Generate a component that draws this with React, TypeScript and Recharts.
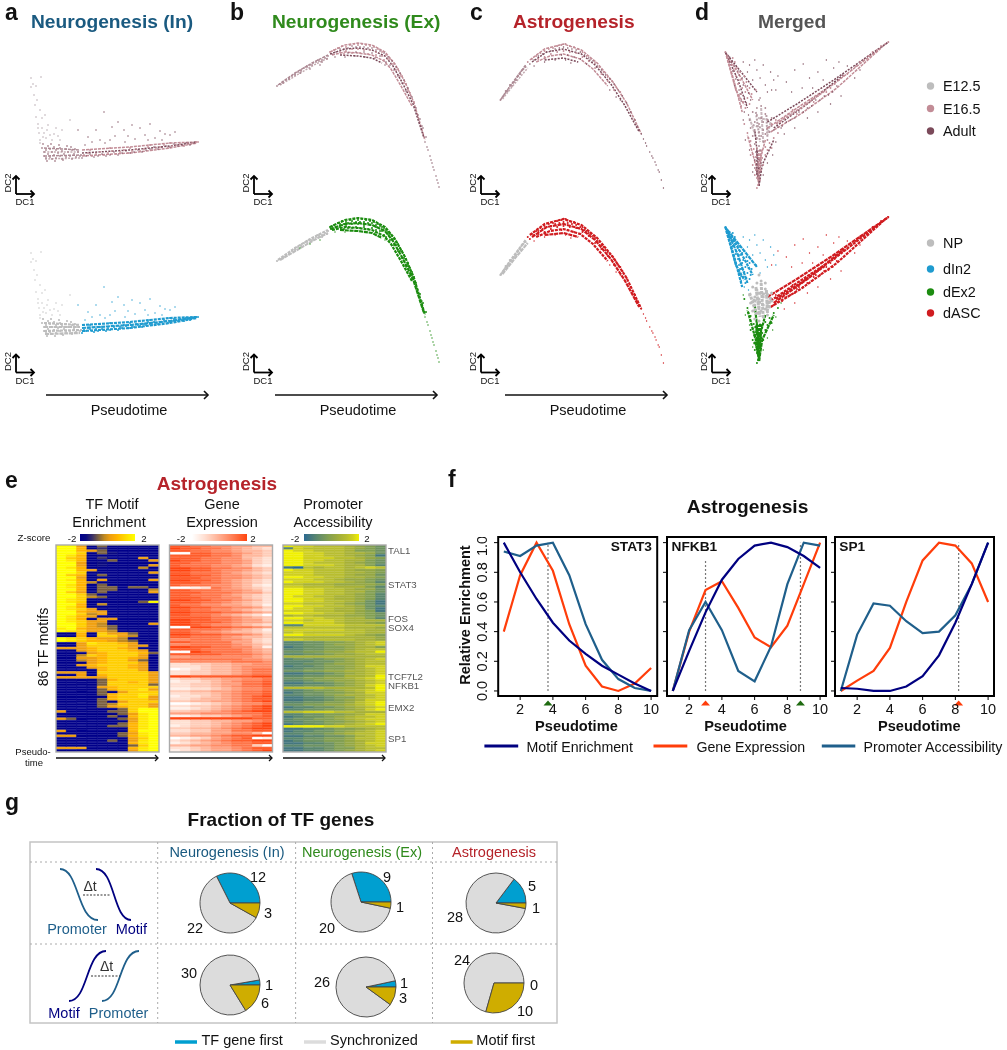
import React from "react";
import {
  ScatterChart, Scatter, XAxis, YAxis, BarChart, Bar, Cell, LineChart, Line,
  ReferenceLine, ReferenceDot, PieChart, Pie,
} from "recharts";

const FONT = "'Liberation Sans', Arial, sans-serif";

const inNP = [42,148,44,152,44,156,46,150,46,158,48,146,48,154,50,149,50,157,52,152,52,159,54,147,54,155,56,150,56,158,58,153,60,148,60,156,62,151,62,159,64,154,66,149,66,157,68,152,70,156,72,150,72,159,74,154,76,157,78,152,80,156,43,144,47,161,51,144,55,161,59,145,63,160,67,146,71,147,75,149];
const inA = [84,155,88,153,92,156,96,154,100,152,104,155,108,153,112,151,116,154,120,152,124,150,128,153,132,151,136,149,140,151,144,149,148,147,152,150,156,148,160,147,164,145,168,148,172,146,176,145,180,144,184,146,188,144,192,143,196,142,198,142,90,150,110,148,130,148,150,145,170,143];
const inB = [82,158,86,156,90,154,94,157,98,156,102,154,106,156,110,155,114,152,118,155,122,153,126,151,130,153,134,152,138,150,142,152,146,150,150,149,154,147,158,149,162,147,166,146,170,147,174,144,178,146,182,145,186,143,190,145,194,143];
const inSprayNP = [31,78,33,84,31,87,36,86,41,77,34,95,37,100,35,105,40,110,36,117,42,118,38,124,45,115,42,128,39,133,48,125,44,133,40,140,50,135,46,138,56,128,52,140,60,140,62,130,70,120,40,143,38,128,43,137,47,130,54,134,58,136];
const inSpray = [104,112,112,127,78,130,96,130,118,122,124,130,88,137,100,140,132,125,140,128,150,124,160,131,170,135,145,135,155,138,115,136,135,139,125,142,165,134,175,132,105,143,85,145,92,142,110,140,128,136,148,140,162,140];
const inStrandsNP = [[44,148,80,150],[44,152,80,152],[44,156,82,155],[45,159,80,158]];
const inStrands = [[82,150,130,147,170,143,197,142],[82,153,130,150,170,146,197,142],[82,156,130,153,170,148,197,143]];

const exNP = [277,86,280,84,283,82,286,80,289,78,292,76,295,74,298,72,301,70,304,68,307,67,310,65,313,63,316,62,319,61,322,60,325,58,328,56,283,83,289,79,295,75,301,71,307,66,312,65,318,60,322,62,327,59];
const exA = [330,52,334,50,338,48,342,46,346,47,350,45,354,44,358,45,362,44,366,45,370,46,374,47,378,49,382,52,386,55,390,59,394,64,398,69,402,76,406,84,410,93,414,102,340,52,346,51,352,49,358,49,364,50,370,50,376,52,382,56,388,59,392,64,396,70,400,76,404,83,408,90,344,54,352,53,360,53,368,54,376,55,384,60];
const exB = [332,54,336,52,340,49,344,49,348,48,352,46,356,47,360,47,364,47,368,48,372,48,376,50,380,51,384,53,388,57,392,61,396,67,400,73,404,80,408,88,412,97,416,108,420,119,423,128,426,137,348,53,356,52,364,52,372,53,380,56,386,62,390,65,394,70,398,76,402,83,406,91];
const exSpray = [425,142,428,150,430,156,432,163,434,170,436,176,438,183,439,187,427,147,431,160,433,167,437,180,418,115,422,126,335,57,345,57,355,56,365,57,375,58,300,73,310,69,320,65,385,65];
const exStrandsNP = [[278,85,295,73,312,63,328,55],[280,85,297,75,314,65,328,58]];
const exStrands = [[330,52,345,45,358,43,372,45,385,52,395,64,405,82,414,103,425,140],[330,54,345,49,358,48,372,50,385,56,393,66,403,84,413,104,424,138],[332,55,345,52,358,53,372,55,384,61,391,69,401,86,412,106],[340,55,358,56,372,58,382,63]];

const acNP = [498,100,500,97,502,94,504,91,506,88,508,85,510,83,512,80,514,77,516,74,518,71,520,69,522,67,501,96,505,91,509,86,513,80,517,74,503,91,507,85,511,82,515,76,519,70];
const acA = [524,62,528,59,532,56,536,53,540,51,544,49,548,48,552,46,556,45,560,44,564,46,568,47,572,49,576,52,580,56,584,59,588,63,592,67,596,72,600,77,604,81,608,87,612,92,534,59,540,57,546,54,552,52,558,51,564,52,570,53,576,57,582,61,588,68,594,74,600,81,606,90];
const acB = [526,64,530,60,534,56,538,54,542,52,546,51,550,49,554,48,558,47,562,48,566,49,570,50,574,52,578,55,582,58,586,61,590,66,594,70,598,75,602,79,606,84,610,90,614,96,618,103,622,112,626,120,630,130,556,55,562,55,568,57,574,59];
const acSpray = [634,139,637,146,640,152,643,158,646,165,649,172,651,180,653,188,628,126,632,134,636,143,642,156,645,162,648,170,530,66,540,62,550,60,560,60,565,63,580,64,602,90,608,97,612,100];
const acStrandsNP = [[498,100,510,82,522,65],[500,99,512,83,524,68]];
const acStrands = [[526,60,540,49,558,44,575,50,590,63,605,82,618,103,632,134],[528,62,542,52,558,49,575,54,588,65,603,84,616,105,630,132],[532,62,545,56,558,54,574,59,586,69,600,86],[540,60,558,58,572,62]];

const mgNP = [738,112,742,115,746,118,750,114,735,120,740,122,744,124,748,122,752,120,756,118,736,128,740,130,744,132,748,130,752,128,756,126,738,136,742,138,746,136,750,134,754,132,740,144,744,146,748,142,752,140,742,108,746,106,750,108,744,100];
const mgInA = [712,52,714,56,716,60,718,65,715,62,719,58,721,62,720,70,723,68,726,72,718,74,722,76,726,80,730,76,720,82,724,84,728,88,732,82,722,90,727,94,731,92,735,88,725,98,729,102,733,98,737,94,741,90,727,106,731,108,735,104];
const mgInB = [713,54,716,57,718,62,721,66,724,71,719,71,722,79,725,75,728,78,721,86,725,90,729,85,733,86,726,94,730,97,734,93,727,101,732,103,736,100];
const mgInSpray = [738,80,745,78,750,85,742,70,733,72,748,65,755,72,758,80,740,60,752,92,745,98,729,62,735,65,760,90,730,112,734,115];
const mgExA = [730,124,733,133,736,141,739,149,741,157,743,165,744,173,745,180,742,188,743,185,742,178,741,170,740,162,738,154,745,155,747,150,750,147,754,143,758,138,762,133,746,160,744,158,742,155,748,165,746,170,740,175,738,165,736,155,742,148,736,146,734,138,752,150,756,148,750,155,747,158];
const mgExB = [742,155,744,160,742,165,744,168,742,172,743,176,740,160,746,163,741,152,745,150,740,168,745,172];
const mgExSpray = [729,120,760,142,765,128,757,155,752,163,731,140,735,150,748,175,738,172];
const mgAcA = [752,128,756,124,760,120,764,122,768,118,772,114,776,110,780,114,784,108,788,104,792,100,796,102,800,96,804,92,808,92,812,88,816,84,820,80,824,76,828,74,832,70,836,66,840,62,844,60,848,56,852,52,856,50,860,46,864,44,867,42];
const mgAcB = [758,130,762,127,766,126,770,122,774,120,778,118,782,112,786,112,790,108,794,106,798,100,802,100,806,96,810,95,814,92,818,86];
const mgAcSpray = [756,90,762,76,770,82,778,70,786,64,792,78,800,72,808,60,815,68,775,92,785,88,795,88,805,80,820,62,828,66,840,70,835,78,822,96,812,104,800,112,790,118,778,128,768,134];
const mgInStrands = [[712,52,720,80,728,112],[712,52,724,80,733,108],[713,54,727,78,738,100],[714,55,730,76,742,92],[713,56,722,90,730,105]];
const mgExStrands = [[744,186,741,165,733,135],[744,186,743,160,740,130],[744,186,745,160,750,140],[744,186,747,165,758,140],[743,180,744,150],[742,175,742,150],[745,172,746,150]];
const mgAcStrands = [[752,128,780,108,815,84,867,42],[752,122,780,104,815,80,867,42],[755,132,785,113,818,88,860,48],[758,128,790,104,825,74],[760,124,785,107,808,90]];
const mgNpStrands = [[735,118,742,140],[741,112,745,142],[746,108,748,142],[751,115,752,138],[755,122,752,135],[738,125,747,128],[743,118,754,120]];

// ---------- heat maps: one string per TF motif, one digit (0-9) per pseudotime bin ----------
const motifRows = [
"9950300000","9960200000","9965300000","9970310000","9860000000","9760200050","9860030005","9950100000","9950100005","9860000040",
"9965000000","9970000005","9760300000","9950000000","9860500005","9964000000","9860300000","9860330330","9960330004","9750300005",
"9973000000","9974300000","9870000000","9870000039","9960400000","9860000000","9875000000","9965500000","9974500000","9865000000",
"9860550000","9875500000","9975400005","9975430000","8965530000","9875540000",
"0060755300","0060775400","9876554000","9876654300","0058776500","0057777550","5556776500","0056777650","0005677763","0047677750",
"0055677650","0045677530","0005677750","0056777650","0005677650","0000677750",
"5550777775","0050677775","5555577775","0000367775","0000377675","0000377773","0000567777","0000367785","0000305777","0000367787",
"0000067785","0000367775","0000305777","0000347775","0000356775",
"0000003799","5000033799","0000003589","0000030689","5300003589","0000000589","0000003689","0000033689","0000000689","5000000699",
"0000003589","5500003689","0000000579","0000030589","0000000689","0000000379","5550000689","0000000589",
];
const geneRows = [
"8877665544","9887765432","8877665443","0088776543","8888776443","8887766432","9887766532","8877766532","8777665421","9988776643",
"9988766543","8877765432","9988766543","8887766543","9988765432","8887765432","8777665421","0012765432","8877766542","8887776553",
"8877765432","8887766432","9988776542","8887765432","8776655431","9988776653","8877665432","9988877654","8877654320","8888776543",
"9988776553","9988876554","9987665432","0099887765","8877765431","8876654432","9988877653","8877765443","6677766532","8877775532",
"6677776543","9988776641","8887777654","0098777654","8888877765","5566666654","7777777665","6666667776",
"2233445566","2223445666","0123445677","2233445677","2233445677","9988888899","2334455667","1223456778","2233455778","2233456778",
"1122345667","3344556778","2233456778","1223456789","2234456788","3344556789","0012345667","2233456789","1123456789","3344567899",
"5556667778","1123345678","9999999988","2233445567","2233456789","1233456789","3344567899","2233557788","3344556640","4455678899",
"0123567801","2345678899","1234567788","4455667730","2234556788","1234556789",
];
const promRows = [
"9887776543","2877776543","9887776443","9988776653","9988776541","9988877654","9988776643","9987776543","9988876642","1076776787",
"9887776554","8887776654","8887776553","9988776654","8887765543","9888776542","7766655554","8877766642","9988776553","9988776643",
"9988776542","9887766542","9988766542","9988776531","8877765431","9988776532","9887766531","8887766541","9988776543","6776665543",
"9988776642","8878876666","9988876654","2288887777","7777776665","8888887766","7877777766","9988887654","6666666665","8877777665",
"2233445678","2233455678","1233445664","2233445677","3344556779","2233455677","6666666666","2333445678","2223345677","2233455677",
"1223445688","2233445678","3344556678","1122345678","2233446679","3344556789","2234455678","1122345678","2233345689","7777666679",
"2234456789","1233445688","2233456678","1122344678","1122345688","2233445789","3344556789","1223345678","2233445689","7788877666",
"2233445688","1233456778","2334456788","2233445678","1233456789","9999887777","1122344567","1223345678","2233456778","1122334678",
"2233445778","1233445678","1122345688","2233345678","1122344677","1122345678",
];
const binKeys = ["c0","c1","c2","c3","c4","c5","c6","c7","c8","c9"];
const motifPalette = ["#00008b","#0a0a80","#3a3068","#7a6040","#c08a20","#f0a010","#ffb400","#ffcf00","#ffe800","#ffff00"];
const genePalette = ["#ffffff","#fff0e9","#ffe0d3","#ffcdb9","#ffb89e","#ffa282","#ff8c66","#ff7549","#ff5d2b","#ff4510"];
const promPalette = ["#2b6a92","#44777f","#5a876f","#6f9362","#83a052","#96a844","#a8b238","#b8be30","#d0d020","#f0f000"];

// ---------- panel f ----------
const pseudotime = [1,2,3,4,5,6,7,8,9,10];
const stat3Motif = [1,.8,.62,.46,.34,.25,.17,.11,.05,0];
const stat3Gene = [.4,.78,1,.81,.45,.17,.03,0,.05,.155];
const stat3Prom = [.94,.91,.98,1,.78,.45,.21,.08,.02,0];
const nfkb1Motif = [0,.27,.53,.75,.89,.98,1,.97,.91,.83];
const nfkb1Gene = [0,.4,.68,.74,.56,.36,.295,.44,.72,1];
const nfkb1Prom = [0,.41,.6,.41,.135,.065,.3,.72,1,.98];
const sp1Motif = [.02,.015,0,0,.03,.1,.24,.46,.72,1];
const sp1Gene = [0,.07,.135,.29,.6,.88,1,.98,.86,.6];
const sp1Prom = [0,.38,.59,.575,.47,.39,.4,.51,.72,1];

// ---------- panel g ----------
const pieNames = ["TF gene first","Synchronized","Motif first"];
const pieIn1 = [12,22,3];
const pieEx1 = [9,20,1];
const pieAc1 = [5,28,1];
const pieIn2 = [1,30,6];
const pieEx2 = [1,26,3];
const pieAc2 = [0,24,10];

const C = {
  gray: "#bdbdbd", pink: "#c28c96", dark: "#7b4a5a", np: "#ad8a94", spray: "#a99aa0", band: "#a67482",
  blue: "#1f9bcf", green: "#1c8c10", red: "#d01c20",
  navy: "#000080", orange: "#ff3d0a", teal: "#1f5f8b",
  tealT: "#1a5a80", greenT: "#2f8a1c", redT: "#b5232a",
  pieBlue: "#009fd0", pieGray: "#dcdcdc", pieGold: "#cfad00",
};

const xy = (flat: number[]) => {
  const out: { x: number; y: number }[] = [];
  for (let i = 0; i < flat.length; i += 2) out.push({ x: flat[i], y: flat[i + 1] });
  return out;
};

type Layer = { d: number[]; c: string; r?: number; w?: number; dash?: string };
function Cloud({ l, t, w, h, px, pw, dy = 0, layers }: { l: number; t: number; w: number; h: number; px?: number; pw?: number; dy?: number; layers: Layer[] }) {
  return (
    <div style={{ position: "absolute", left: px ?? l, top: t + dy }}>
      <ScatterChart width={pw ?? w} height={h} margin={{ top: 0, right: 0, bottom: 0, left: 0 }}>
        <XAxis type="number" dataKey="x" domain={[l, l + w]} hide />
        <YAxis type="number" dataKey="y" domain={[t, t + h]} reversed hide />
        {layers.map((ly, i) => ly.w ? (
          <Scatter key={i} data={xy(ly.d)} isAnimationActive={false} lineType="joint"
            line={{ stroke: ly.c, strokeWidth: ly.w, strokeDasharray: ly.dash }}
            shape={() => <g />} />
        ) : (
          <Scatter key={i} data={xy(ly.d)} isAnimationActive={false}
            shape={(p: any) => <circle cx={p.cx} cy={p.cy} r={ly.r} fill={ly.c} />} />
        ))}
      </ScatterChart>
    </div>
  );
}

function Heat({ l, rows, palette }: { l: number; rows: string[]; palette: string[] }) {
  const data = rows.map((s, i) => {
    const o: any = { row: i };
    binKeys.forEach((k) => (o[k] = 1));
    return o;
  });
  return (
    <div style={{ position: "absolute", left: l, top: 545 }}>
      <BarChart width={103} height={207} layout="vertical" data={data} barCategoryGap={0}
        margin={{ top: 0, right: 0, bottom: 0, left: 0 }}>
        <XAxis type="number" domain={[0, 10]} hide />
        <YAxis type="category" dataKey="row" hide />
        {binKeys.map((k, j) => (
          <Bar key={k} dataKey={k} stackId="a" isAnimationActive={false}>
            {rows.map((s, i) => {
              const f = palette[Number(s[j])];
              return <Cell key={i} fill={f} stroke={f} strokeWidth={0.6} />;
            })}
          </Bar>
        ))}
      </BarChart>
    </div>
  );
}

function Trend({ frameL, motif, gene, prom, first, marks, dashes }: {
  frameL: number; motif: number[]; gene: number[]; prom: number[]; first?: boolean;
  marks: { x: number; c: string }[]; dashes: { x: number; top: number }[];
}) {
  const data = pseudotime.map((p, i) => ({ p, motif: motif[i], gene: gene[i], prom: prom[i] }));
  return (
    <div style={{ position: "absolute", left: frameL - 40, top: 537 }}>
      <LineChart width={213} height={196} data={data} margin={{ top: 0, right: 14, bottom: 0, left: 0 }}>
        <XAxis type="number" dataKey="p" domain={[0.646, 10.36]} ticks={[2, 4, 6, 8, 10]} height={37}
          axisLine={false} tickSize={4} tickLine={{ stroke: "#000" }} tickMargin={4}
          tick={{ fontSize: 14.5, fill: "#111", fontFamily: FONT }} interval={0} allowDataOverflow />
        <YAxis type="number" domain={[-0.034, 1.038]} ticks={[0, .2, .4, .6, .8, 1]} width={40}
          axisLine={false} tickSize={4} tickLine={{ stroke: "#000" }} allowDataOverflow
          tick={first ? (p: any) => (
            <text x={p.x - 5} y={p.y} transform={`rotate(-90 ${p.x - 5} ${p.y})`} textAnchor="middle"
              fontSize={14.5} fill="#111" fontFamily={FONT}>{Number(p.payload.value).toFixed(1)}</text>
          ) : () => <g />} />
        {dashes.map((d, i) => (
          <ReferenceLine key={i} segment={[{ x: d.x, y: 0 }, { x: d.x, y: d.top }]}
            stroke="#777" strokeDasharray="2 2" strokeWidth={1.2} />
        ))}
        <Line dataKey="gene" stroke={C.orange} strokeWidth={2.2} dot={false} isAnimationActive={false} />
        <Line dataKey="prom" stroke={C.teal} strokeWidth={2.2} dot={false} isAnimationActive={false} />
        <Line dataKey="motif" stroke={C.navy} strokeWidth={2.2} dot={false} isAnimationActive={false} />
        {marks.map((m, i) => (
          <ReferenceDot key={i} x={m.x} y={-0.081} ifOverflow="visible"
            shape={(p: any) => <polygon points={`${p.cx - 4.5},${p.cy + 2.5} ${p.cx + 4.5},${p.cy + 2.5} ${p.cx},${p.cy - 2.5}`} fill={m.c} />} />
        ))}
      </LineChart>
    </div>
  );
}

function TfPie({ cx, cy, r, values }: { cx: number; cy: number; r: number; values: number[] }) {
  const s = r + 4;
  const data = values.map((v, i) => ({ name: pieNames[i], value: v }));
  const fills = [C.pieBlue, C.pieGray, C.pieGold];
  return (
    <div style={{ position: "absolute", left: cx - s, top: cy - s }}>
      <PieChart width={s * 2} height={s * 2} margin={{ top: 0, right: 0, bottom: 0, left: 0 }}>
        <Pie data={data} dataKey="value" cx={s} cy={s} outerRadius={r} innerRadius={0} startAngle={0} endAngle={360}
          isAnimationActive={false} stroke="#444" strokeWidth={0.9}>
          {data.map((d, i) => <Cell key={i} fill={fills[i]} />)}
        </Pie>
      </PieChart>
    </div>
  );
}

function T({ x, y, s = 14.5, b, c = "#111", a = "start", rot, children }: any) {
  return (
    <text x={x} y={y} fontSize={s} fontWeight={b ? 700 : 400} fill={c} textAnchor={a} fontFamily={FONT}
      transform={rot ? `rotate(${rot} ${x} ${y})` : undefined}>{children}</text>
  );
}

function Arrow({ x1, y1, x2, y2, w = 1.6, c = "#111", h = 4 }: any) {
  const dx = Math.sign(x2 - x1), dy = Math.sign(y2 - y1);
  return (
    <g stroke={c} strokeWidth={w} fill="none">
      <line x1={x1} y1={y1} x2={x2} y2={y2} />
      <polyline points={`${x2 - dx * h - dy * h},${y2 - dy * h - dx * h} ${x2},${y2} ${x2 - dx * h + dy * h},${y2 - dy * h + dx * h}`} />
    </g>
  );
}

function DC({ x, y }: { x: number; y: number }) {
  return (
    <g>
      <Arrow x1={x} y1={y} x2={x} y2={y - 18} w={1.8} h={3.5} c="#000" />
      <Arrow x1={x} y1={y} x2={x + 18} y2={y} w={1.8} h={3.5} c="#000" />
      <T x={x - 5} y={y - 11} s={9.5} a="middle" rot={-90}>DC2</T>
      <T x={x + 9} y={y + 11} s={9.5} a="middle">DC1</T>
    </g>
  );
}

function Grad({ id, palette }: { id: string; palette: string[] }) {
  return (
    <linearGradient id={id} x1="0" x2="1" y1="0" y2="0">
      {palette.map((p, i) => <stop key={i} offset={i / (palette.length - 1)} stopColor={p} />)}
    </linearGradient>
  );
}

const topStrands = (a: number[][], w = 1.5, colors = [C.pink, C.dark]): Layer[] =>
  a.map((d, i) => ({ d, c: colors[i % colors.length], w, dash: i % 2 ? "2 1.3" : "3 1" }));
const cellStrands = (a: number[][], c: string, w = 2.2): Layer[] =>
  a.map((d, i) => ({ d, c, w, dash: i % 2 ? "4 0.8" : "3 1" }));

const stageLayers = (npS: number[][], s: number[][], np: number[], a: number[], b: number[], spray: number[], extra: number[] = []): Layer[] => [
  ...topStrands(npS, 1.5, [C.np, "#c3aab0"]), ...topStrands(s),
  { d: extra, c: C.spray, r: 0.7 }, { d: spray, c: C.dark, r: 0.7 },
  { d: np, c: C.np, r: 0.9 }, { d: a, c: C.pink, r: 0.9 }, { d: b, c: C.dark, r: 0.75 },
];
const cellLayers = (npS: number[][], s: number[][], np: number[], a: number[], b: number[], spray: number[], col: string, extra: number[] = []): Layer[] => [
  ...cellStrands(s, col), ...cellStrands(npS, C.gray),
  { d: extra, c: C.gray, r: 0.7 }, { d: spray, c: col, r: 0.7 },
  { d: a, c: col, r: 1 }, { d: b, c: col, r: 1 }, { d: np, c: C.gray, r: 1.1 },
];

const mergedA = [...mgInA, ...mgExA, ...mgAcA];
const mergedB = [...mgInB, ...mgExB, ...mgAcB];
const mergedSpray = [...mgInSpray, ...mgExSpray, ...mgAcSpray];

export default function App() {
  const dy = 174.5;
  return (
    <div style={{ position: "absolute", left: 0, top: 0, width: 1007, height: 1050, background: "#fff", overflow: "hidden", fontFamily: FONT, filter: "blur(0.3px)" }}>
      <Cloud l={20} t={70} w={185} h={100} layers={stageLayers(inStrandsNP, inStrands, inNP, inA, inB, inSpray, inSprayNP)} />
      <Cloud l={20} t={70} w={185} h={100} dy={dy} layers={cellLayers(inStrandsNP, inStrands, inNP, inA, inB, inSpray, C.blue, inSprayNP)} />
      <Cloud l={270} t={38} w={175} h={155} layers={stageLayers(exStrandsNP, exStrands, exNP, exA, exB, exSpray)} />
      <Cloud l={270} t={38} w={175} h={155} dy={dy} layers={cellLayers(exStrandsNP, exStrands, exNP, exA, exB, exSpray, C.green)} />
      <Cloud l={490} t={38} w={170} h={155} px={491.6} pw={178.8} layers={stageLayers(acStrandsNP, acStrands, acNP, acA, acB, acSpray)} />
      <Cloud l={490} t={38} w={170} h={155} px={491.6} pw={178.8} dy={dy} layers={cellLayers(acStrandsNP, acStrands, acNP, acA, acB, acSpray, C.red)} />
      <Cloud l={705} t={38} w={170} h={155} px={717.7} pw={178.8} layers={[
        ...topStrands(mgNpStrands, 2, ["#c9b8bd", "#b9a2a9"]),
        ...topStrands(mgInStrands), ...topStrands(mgExStrands), ...topStrands(mgAcStrands),
        { d: mergedSpray, c: C.dark, r: 0.7 }, { d: mgNP, c: C.np, r: 0.9 }, { d: mergedA, c: C.pink, r: 0.9 }, { d: mergedB, c: C.dark, r: 0.75 },
      ]} />
      <Cloud l={705} t={38} w={170} h={155} px={717.7} pw={178.8} dy={dy} layers={[
        ...cellStrands(mgInStrands, C.blue), ...cellStrands(mgExStrands, C.green), ...cellStrands(mgAcStrands, C.red),
        { d: mgInSpray, c: C.blue, r: 0.7 }, { d: mgExSpray, c: C.green, r: 0.7 }, { d: mgAcSpray, c: C.red, r: 0.7 },
        { d: mgInA, c: C.blue, r: 1 }, { d: mgInB, c: C.blue, r: 1 },
        { d: mgExA, c: C.green, r: 1 }, { d: mgExB, c: C.green, r: 1.6 },
        { d: mgAcA, c: C.red, r: 0.9 }, { d: mgAcB, c: C.red, r: 1 },
        ...cellStrands(mgNpStrands, C.gray, 3), { d: mgNP, c: C.gray, r: 1.5 },
      ]} />

      <Heat l={56} rows={motifRows} palette={motifPalette} />
      <Heat l={169.5} rows={geneRows} palette={genePalette} />
      <Heat l={283} rows={promRows} palette={promPalette} />

      <Trend frameL={498.2} motif={stat3Motif} gene={stat3Gene} prom={stat3Prom} first
        marks={[{ x: 3.7, c: "#1f6b10" }]} dashes={[{ x: 3.7, top: 1 }]} />
      <Trend frameL={667} motif={nfkb1Motif} gene={nfkb1Gene} prom={nfkb1Prom}
        marks={[{ x: 3, c: C.orange }, { x: 8.8, c: "#1f6b10" }]} dashes={[{ x: 3, top: 0.89 }, { x: 8.8, top: 1 }]} />
      <Trend frameL={835} motif={sp1Motif} gene={sp1Gene} prom={sp1Prom}
        marks={[{ x: 8.2, c: C.orange }]} dashes={[{ x: 8.2, top: 1 }]} />

      <TfPie cx={230} cy={903} r={30} values={pieIn1} />
      <TfPie cx={360.6} cy={902} r={30} values={pieEx1} />
      <TfPie cx={496.4} cy={903} r={30} values={pieAc1} />
      <TfPie cx={230.3} cy={985} r={30} values={pieIn2} />
      <TfPie cx={366} cy={987} r={30} values={pieEx2} />
      <TfPie cx={493.8} cy={983} r={30} values={pieAc2} />

      <svg width={1007} height={1050} style={{ position: "absolute", left: 0, top: 0, pointerEvents: "none" }}>
        <defs>
          <Grad id="gm" palette={motifPalette} />
          <Grad id="gg" palette={genePalette} />
          <Grad id="gp" palette={promPalette} />
        </defs>
        {/* panel letters & titles */}
        <T x={5} y={20} s={23} b>a</T>
        <T x={230} y={20} s={23} b>b</T>
        <T x={470} y={20} s={23} b>c</T>
        <T x={695} y={20} s={23} b>d</T>
        <T x={5} y={488} s={23} b>e</T>
        <T x={448} y={487} s={23} b>f</T>
        <T x={5} y={810} s={23} b>g</T>
        <T x={31} y={28} s={19.2} b c={C.tealT}>Neurogenesis (In)</T>
        <T x={272} y={28} s={19.2} b c={C.greenT}>Neurogenesis (Ex)</T>
        <T x={513} y={28} s={19.2} b c={C.redT}>Astrogenesis</T>
        <T x={758} y={28} s={19.2} b c="#555">Merged</T>

        {[16, 254, 481, 712].map((x) => <DC key={x} x={x} y={194} />)}
        {[16, 254, 481, 712].map((x) => <DC key={x} x={x} y={372.5} />)}
        <Arrow x1={46} y1={395} x2={208} y2={395} />
        <Arrow x1={275} y1={395} x2={437} y2={395} />
        <Arrow x1={505} y1={395} x2={667} y2={395} />
        <T x={129} y={415} a="middle">Pseudotime</T>
        <T x={358} y={415} a="middle">Pseudotime</T>
        <T x={588} y={415} a="middle">Pseudotime</T>

        {[["E12.5", 86, C.gray], ["E16.5", 108.5, C.pink], ["Adult", 131, C.dark],
          ["NP", 243, C.gray], ["dIn2", 269, C.blue], ["dEx2", 292, C.green], ["dASC", 313, C.red]].map(([n, y, c]: any) => (
          <g key={n}>
            <circle cx={930.5} cy={y} r={3.7} fill={c} />
            <T x={943} y={y + 5} s={14.4}>{n}</T>
          </g>
        ))}

        {/* panel e */}
        <T x={217} y={490} s={19} b a="middle" c={C.redT}>Astrogenesis</T>
        <T x={112} y={509} a="middle">TF Motif</T>
        <T x={109} y={527} a="middle">Enrichment</T>
        <T x={222} y={509} a="middle">Gene</T>
        <T x={222} y={527} a="middle">Expression</T>
        <T x={333} y={509} a="middle">Promoter</T>
        <T x={333} y={527} a="middle">Accessibility</T>
        <T x={34} y={541} s={9.7} a="middle">Z-score</T>
        <T x={72} y={542} s={9.7} a="middle">-2</T><T x={144} y={542} s={9.7} a="middle">2</T>
        <T x={181} y={542} s={9.7} a="middle">-2</T><T x={253} y={542} s={9.7} a="middle">2</T>
        <T x={295} y={542} s={9.7} a="middle">-2</T><T x={367} y={542} s={9.7} a="middle">2</T>
        <rect x={80} y={534} width={55} height={7} fill="url(#gm)" />
        <rect x={192} y={534} width={55} height={7} fill="url(#gg)" />
        <rect x={304} y={534} width={55} height={7} fill="url(#gp)" />
        {[56, 169.5, 283].map((x) => (
          <rect key={x} x={x} y={545} width={103} height={207} fill="none" stroke="#aaa" strokeWidth={1.4} />
        ))}
        {[["TAL1", 554], ["STAT3", 588], ["FOS", 622], ["SOX4", 631], ["TCF7L2", 680], ["NFKB1", 689], ["EMX2", 711], ["SP1", 742]].map(([n, y]: any) => (
          <T key={n} x={388} y={y} s={9.7} c="#555">{n}</T>
        ))}
        <T x={48} y={647} s={14.2} a="middle" rot={-90}>86 TF motifs</T>
        <T x={33} y={755} s={9.5} a="middle">Pseudo-</T>
        <T x={34} y={766} s={9.5} a="middle">time</T>
        <Arrow x1={56} y1={758} x2={158} y2={758} w={1.3} h={3} />
        <Arrow x1={169} y1={758} x2={272} y2={758} w={1.3} h={3} />
        <Arrow x1={283} y1={758} x2={385} y2={758} w={1.3} h={3} />

        {/* panel f */}
        <T x={747.6} y={513} s={19.2} b a="middle">Astrogenesis</T>
        {[498.2, 667, 835].map((x) => <rect key={x} x={x} y={537} width={159} height={159} fill="none" stroke="#000" strokeWidth={2} />)}
        <T x={652} y={551} s={13.7} b a="end">STAT3</T>
        <T x={671.6} y={551} s={13.7} b>NFKB1</T>
        <T x={839.3} y={551} s={13.7} b>SP1</T>
        <T x={470} y={615} s={14.5} b a="middle" rot={-90}>Relative Enrichment</T>
        <T x={576.4} y={731} s={14.6} b a="middle">Pseudotime</T>
        <T x={745.5} y={731} s={14.6} b a="middle">Pseudotime</T>
        <T x={919.3} y={731} s={14.6} b a="middle">Pseudotime</T>
        <line x1={484.4} x2={518.2} y1={746} y2={746} stroke={C.navy} strokeWidth={3} />
        <T x={526.5} y={752} s={14.2}>Motif Enrichment</T>
        <line x1={653.5} x2={687.3} y1={746} y2={746} stroke={C.orange} strokeWidth={3} />
        <T x={696.4} y={752} s={14.2}>Gene Expression</T>
        <line x1={821.8} x2={855.3} y1={746} y2={746} stroke={C.teal} strokeWidth={3} />
        <T x={863.6} y={752} s={14.2}>Promoter Accessibility</T>

        {/* panel g */}
        <T x={281} y={826} s={19} b a="middle">Fraction of TF genes</T>
        <rect x={30} y={842} width={527} height={181} fill="none" stroke="#c4c4c4" strokeWidth={1.5} />
        {[157.7, 295.6, 432.5].map((x) => <line key={x} x1={x} x2={x} y1={842} y2={1023} stroke="#aaa" strokeDasharray="2 3" />)}
        {[862, 944].map((y) => <line key={y} x1={30} x2={557} y1={y} y2={y} stroke="#aaa" strokeDasharray="2 3" />)}
        <T x={227} y={857} a="middle" c={C.tealT}>Neurogenesis (In)</T>
        <T x={362} y={857} a="middle" c={C.greenT}>Neurogenesis (Ex)</T>
        <T x={494} y={857} a="middle" c={C.redT}>Astrogenesis</T>
        <path d="M60 869 C 79 869, 77 920, 98 920" fill="none" stroke={C.teal} strokeWidth={1.8} />
        <path d="M96 869 C 115 869, 113 920, 131 920" fill="none" stroke={C.navy} strokeWidth={1.8} />
        <T x={90} y={891} s={14} a="middle" c="#333">Δt</T>
        <line x1={83} x2={110} y1={895} y2={895} stroke="#333" strokeWidth={1.1} strokeDasharray="2 1.5" />
        <T x={77} y={934} a="middle" c={C.teal}>Promoter</T>
        <T x={131.4} y={934} a="middle" c={C.navy}>Motif</T>
        <path d="M69 1001 C 88 1001, 86 951, 106 951" fill="none" stroke={C.navy} strokeWidth={1.8} />
        <path d="M102 1001 C 121 1001, 119 951, 139 951" fill="none" stroke={C.teal} strokeWidth={1.8} />
        <T x={106.6} y={971} s={14} a="middle" c="#333">Δt</T>
        <line x1={91} x2={120} y1={976} y2={976} stroke="#333" strokeWidth={1.1} strokeDasharray="2 1.5" />
        <T x={64} y={1018} a="middle" c={C.navy}>Motif</T>
        <T x={118.6} y={1018} a="middle" c={C.teal}>Promoter</T>
        {[[258, 877, "12"], [268, 913, "3"], [195, 928, "22"], [387, 877, "9"], [400, 907, "1"], [327, 928, "20"],
          [532, 886, "5"], [536, 908, "1"], [455, 917, "28"], [189, 973, "30"], [269, 985, "1"], [265, 1003, "6"],
          [322, 982, "26"], [404, 983, "1"], [403, 998, "3"], [462, 960, "24"], [534, 985, "0"], [525, 1011, "10"]].map(([x, y, n]: any, i) => (
          <T key={i} x={x} y={y + 5} a="middle">{n}</T>
        ))}
        <line x1={175} x2={197} y1={1042} y2={1042} stroke={C.pieBlue} strokeWidth={3.5} />
        <T x={201.5} y={1045}>{pieNames[0]}</T>
        <line x1={304} x2={326} y1={1042} y2={1042} stroke={C.pieGray} strokeWidth={3.5} />
        <T x={330} y={1045}>{pieNames[1]}</T>
        <line x1={450.7} x2={472.6} y1={1042} y2={1042} stroke={C.pieGold} strokeWidth={3.5} />
        <T x={476.3} y={1045}>{pieNames[2]}</T>
      </svg>
    </div>
  );
}
